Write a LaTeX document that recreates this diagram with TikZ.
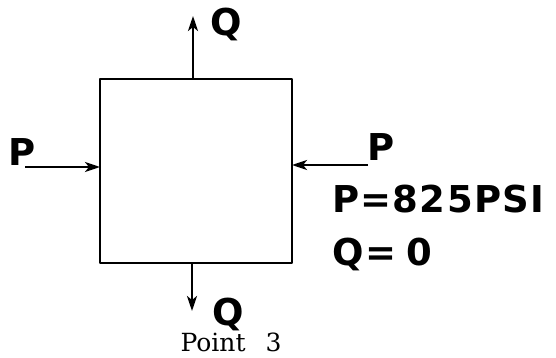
\documentclass[tikz,border=0pt]{standalone}
\usepackage{fontspec}
\setmainfont{DejaVu Serif}
\newfontfamily\lettering{DejaVu Sans}
\newfontfamily\spacedlettering[LetterSpace=3.5]{DejaVu Sans}
\usetikzlibrary{arrows.meta}
\begin{document}
\begin{tikzpicture}[x=1pt,y=-1pt,
  edge/.style={line width=2.6pt,line cap=round,line join=round},
  force/.style={line width=2.4pt,-{Stealth[length=15pt,width=10pt,inset=4pt]}},
  lbl/.style={font=\lettering\bfseries\fontsize{37}{37}\selectfont,inner sep=0pt},
  spacedlbl/.style={font=\spacedlettering\bfseries\fontsize{37}{37}\selectfont,inner sep=0pt},
  captiontext/.style={font=\fontsize{25}{25}\selectfont,inner sep=0pt}]
\useasboundingbox (0,0) rectangle (556,358);
\coordinate (tl) at (100,79);
\coordinate (br) at (292,263);
\draw[edge] (tl) rectangle (br);
\coordinate (topmid) at (193,79);
\coordinate (toptip) at (193,16);
\coordinate (botmid) at (192,263);
\coordinate (bottip) at (192,311);
\coordinate (leftmid) at (100,167);
\coordinate (lefttail) at (25,167);
\coordinate (rightmid) at (292,165);
\coordinate (righttail) at (368,165);
\draw[force] (topmid) -- (toptip);
\draw[force] (botmid) -- (bottip);
\draw[force] (lefttail) -- (leftmid);
\draw[force] (righttail) -- (rightmid);
\node[lbl] (qtop) at (226,24) {Q};
\node[lbl] (qbot) at (228,314) {Q};
\node[lbl] (pleft) at (22,152) {P};
\node[lbl] (pright) at (381,147) {P};
\node[spacedlbl,anchor=west] (peq) at (332,199) {P=825PSI};
\node[lbl,anchor=west] (qeq) at (332,254) {Q\hspace{2pt}=\hspace{10pt}0};
\node[captiontext] (title) at (231,342) {Point\hspace{20pt}3};
\end{tikzpicture}
\end{document}
